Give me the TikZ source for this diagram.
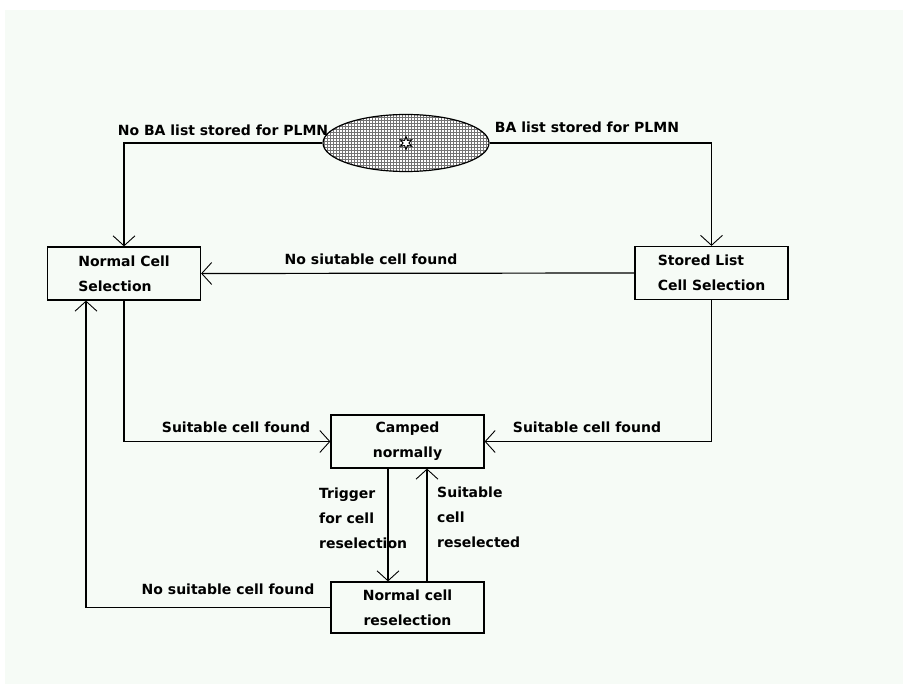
\documentclass[tikz,border=0pt]{standalone}
\usepackage{fontspec}
\setmainfont{DejaVu Sans}
\usetikzlibrary{shapes.geometric, arrows.meta, patterns, positioning}
\definecolor{bg_tint}{RGB}{246,251,246}

\begin{document}
\begin{tikzpicture}[x=1pt, y=-1pt,
    every node/.style={font={\fontsize{14}{25}\selectfont\bfseries}},
    state/.style={draw, line width=1.2pt, minimum width=153pt, minimum height=53pt, inner sep=0pt},
    trans/.style={line width=1.2pt, -{Straight Barb[length=10pt, width=22pt, line width=0.9pt]}},
    tag/.style={inner sep=0pt}]
    % canvas
    \useasboundingbox (0,0) rectangle (903,684);
    \fill[bg_tint] (5,10) rectangle (903,684);

    % start
    \node [ellipse, draw, line width=1.2pt, minimum width=166pt, minimum height=57pt,
           preaction={fill=white}, pattern=grid, pattern color=black!55] (s_init) at (406,143) {};
    \node [star, star points=6, star point ratio=2.2, draw, line width=1pt, fill=white,
           minimum size=13pt, inner sep=0pt] (s_star) at (s_init.center) {};

    % states
    \node [state, align=left] (s_normal) at (124,273.5) {Normal Cell\\Selection};
    \node [state, align=left] (s_stored) at (711.5,273) {Stored List\\Cell Selection};
    \node [state, align=center] (s_camped) at (407.5,441.5) {Camped\\normally};
    \node [state, align=center, minimum height=51pt] (s_resel) at (407.5,607.5) {Normal cell\\reselection};

    % transitions
    \draw [trans] (s_init.west) -| (s_normal.north);
    \draw [trans] (s_init.east) -| (s_stored.north);
    \draw [trans] (s_stored.west) -- (s_normal.east);
    \draw [trans] (s_normal.south) |- (s_camped.west);
    \draw [trans] (s_stored.south) |- (s_camped.east);
    \draw [trans] ([xshift=-19.5pt]s_camped.south) -- ([xshift=-19.5pt]s_resel.north);
    \draw [trans] ([xshift=19.5pt]s_resel.north) -- ([xshift=19.5pt]s_camped.south);
    \draw [trans] (s_resel.west) -| ([xshift=-38pt]s_normal.south);

    % labels
    \node [tag] (l_nolist) at (223,130) {No BA list stored for PLMN};
    \node [tag] (l_list) at (587,127) {BA list stored for PLMN};
    \node [tag] (l_nocell) at (371,259) {No siutable cell found};
    \node [tag] (l_found_a) at (236,427) {Suitable cell found};
    \node [tag] (l_found_b) at (587,427) {Suitable cell found};
    \node [tag, anchor=west, align=left] (l_trigger) at (319,518) {Trigger\\for cell\\reselection};
    \node [tag, anchor=west, align=left] (l_resel) at (437,517) {Suitable\\cell\\reselected};
    \node [tag] (l_nofound) at (228,589) {No suitable cell found};
\end{tikzpicture}
\end{document}
